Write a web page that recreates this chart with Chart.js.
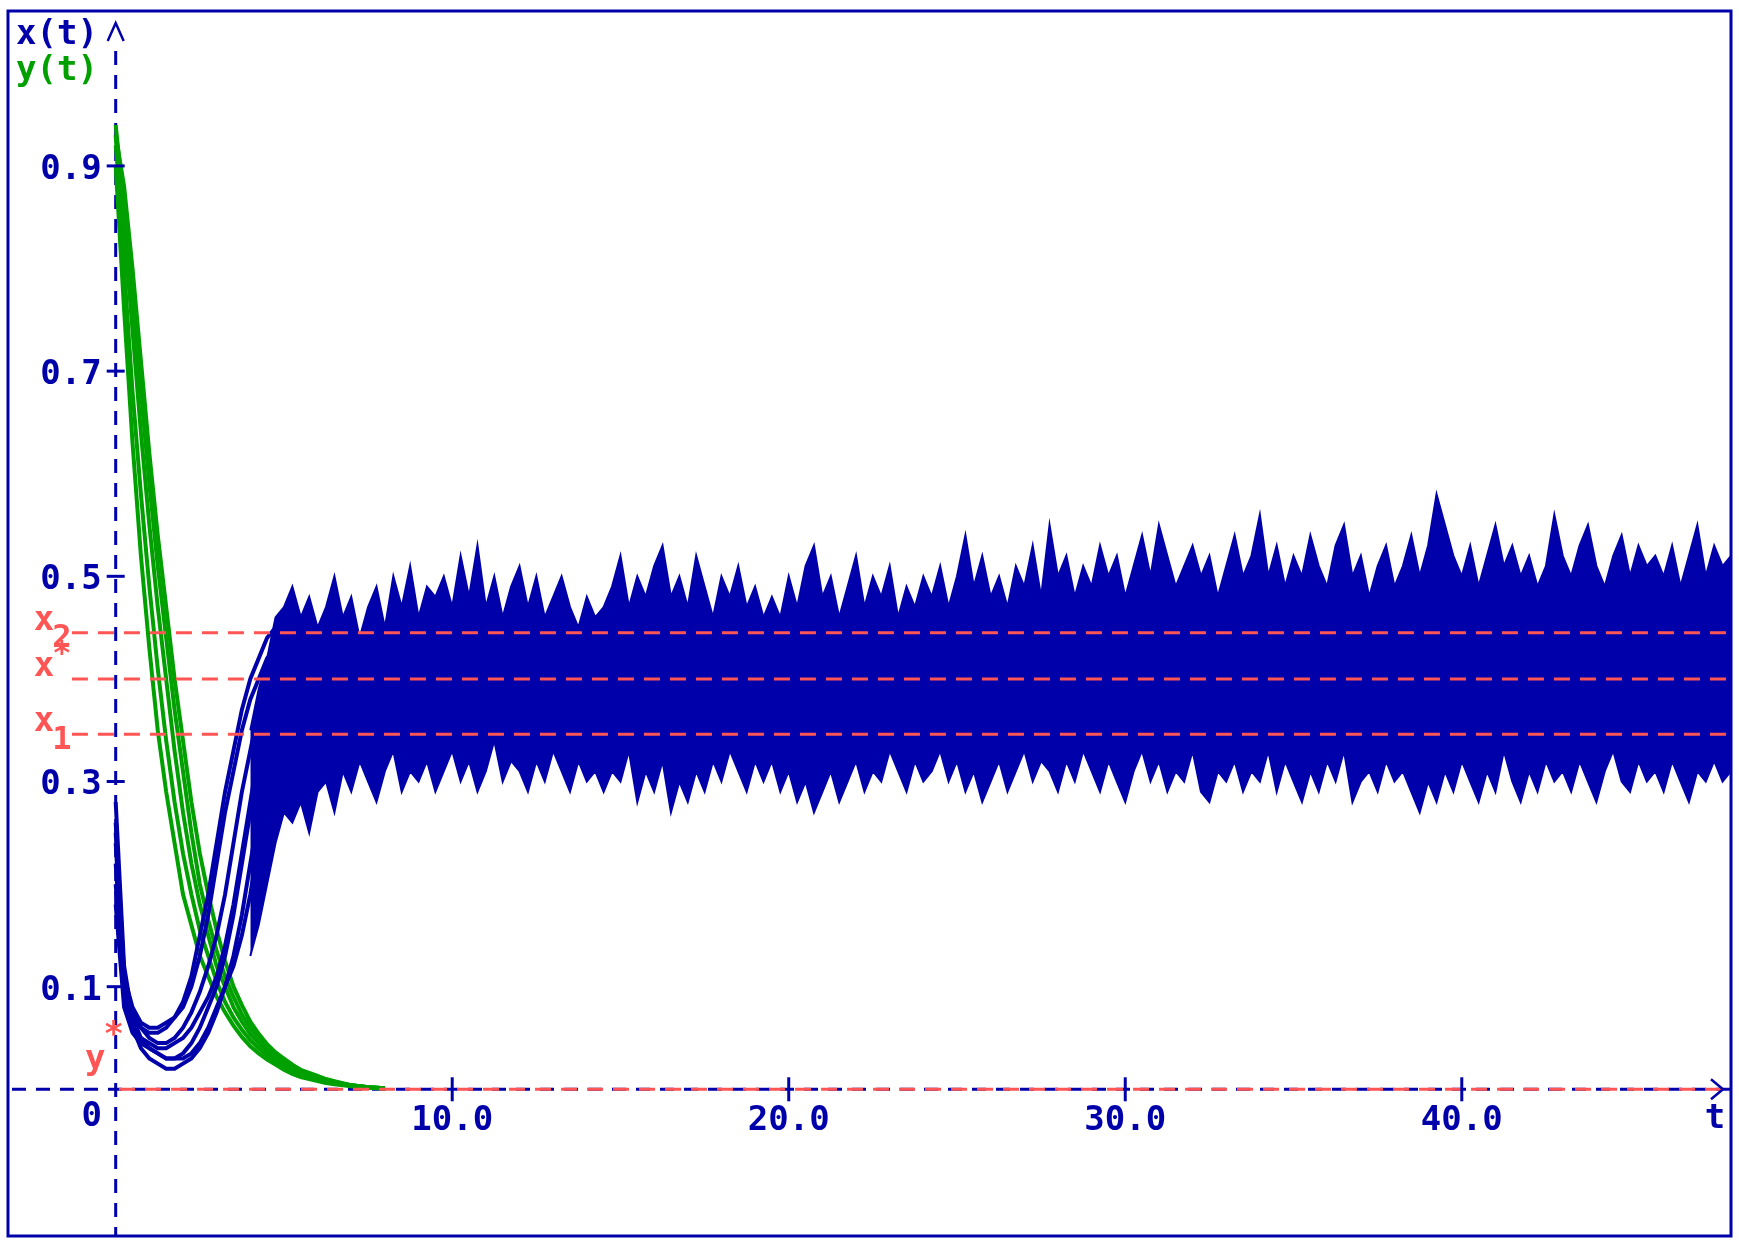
<!DOCTYPE html>
<html><head><meta charset="utf-8">
<script src="https://cdn.jsdelivr.net/npm/chart.js@4/dist/chart.umd.min.js"></script>
<style>html,body{margin:0;padding:0;background:#fff}canvas{display:block}</style>
</head><body>
<canvas id="c" width="1739" height="1246"></canvas>
<script>
// ---- data ----
const xTicks = [10, 20, 30, 40];
const xTickLabels = ["10.0", "20.0", "30.0", "40.0"];
const yTicks = [0.1, 0.3, 0.5, 0.7, 0.9];
const yTickLabels = ["0.1", "0.3", "0.5", "0.7", "0.9"];
const refLevels = {x2: 0.445, xStar: 0.400, x1: 0.346, yStar: 0.0};

const earlyStart = 0, earlyStep = 0.25;
const blue1 = [0.28,0.12,0.07,0.05,0.04,0.035,0.03,0.03,0.035,0.045,0.06,0.08,0.10,0.13,0.17,0.22,0.27,0.32,0.36,0.39,0.41,0.42,0.42];
const blue2 = [0.22,0.10,0.06,0.04,0.03,0.025,0.02,0.02,0.025,0.03,0.04,0.055,0.075,0.10,0.13,0.17,0.22,0.27,0.31,0.35,0.38,0.40,0.41];
const blue3 = [0.25,0.11,0.08,0.065,0.06,0.06,0.065,0.07,0.08,0.10,0.13,0.17,0.22,0.27,0.31,0.35,0.38,0.40,0.42,0.43,0.44,0.44,0.44];
const blue4 = [0.20,0.09,0.06,0.05,0.045,0.04,0.04,0.045,0.05,0.06,0.075,0.09,0.11,0.14,0.18,0.23,0.28,0.33,0.37,0.40,0.42,0.43,0.43];
const blue5 = [0.18,0.08,0.055,0.045,0.04,0.035,0.03,0.03,0.03,0.035,0.045,0.06,0.08,0.10,0.12,0.15,0.19,0.24,0.29,0.33,0.37,0.40,0.42];
const blue6 = [0.24,0.10,0.07,0.06,0.055,0.055,0.06,0.07,0.085,0.11,0.15,0.19,0.24,0.29,0.33,0.37,0.40,0.42,0.44,0.45,0.45,0.45,0.45];
const blue7 = [0.26,0.11,0.075,0.06,0.05,0.045,0.045,0.05,0.06,0.075,0.095,0.12,0.15,0.19,0.24,0.29,0.33,0.37,0.40,0.42,0.43,0.44,0.44];

const green1 = [0.93,0.80,0.68,0.58,0.49,0.41,0.34,0.28,0.23,0.19,0.155,0.13,0.105,0.085,0.07,0.058,0.048,0.04,0.033,0.027,0.022,0.018,0.015,0.012,0.01,0.008,0.006,0.005,0.004,0.003,0.002,0.0015,0.001];
const green2 = [0.92,0.84,0.74,0.64,0.55,0.47,0.40,0.33,0.27,0.22,0.18,0.15,0.12,0.10,0.08,0.066,0.054,0.045,0.037,0.03,0.025,0.02,0.016,0.013,0.01,0.008,0.006,0.005,0.004,0.003,0.002,0.0015,0.001];
const green3 = [0.90,0.76,0.63,0.52,0.43,0.35,0.29,0.24,0.19,0.16,0.13,0.11,0.09,0.075,0.062,0.051,0.042,0.035,0.029,0.024,0.019,0.015,0.012,0.01,0.008,0.006,0.005,0.004,0.003,0.002,0.0015,0.001,0.001];
const green4 = [0.94,0.86,0.77,0.68,0.59,0.51,0.44,0.37,0.31,0.25,0.20,0.165,0.135,0.11,0.09,0.073,0.06,0.05,0.041,0.034,0.028,0.023,0.018,0.015,0.012,0.009,0.007,0.005,0.004,0.003,0.002,0.0015,0.001];
const green5 = [0.93,0.88,0.80,0.71,0.62,0.54,0.47,0.40,0.34,0.28,0.23,0.19,0.155,0.125,0.10,0.082,0.066,0.054,0.044,0.036,0.03,0.024,0.019,0.016,0.013,0.01,0.008,0.006,0.004,0.003,0.002,0.0015,0.001];

const bandStart = 4, bandStep = 0.25;
const bandUpper = [0.35,0.39,0.42,0.46,0.47,
 0.49,0.46,0.48,0.45,0.47,0.50,0.46,0.48,0.44,0.47,0.49,0.45,0.50,0.47,0.51,0.46,0.49,0.48,0.50,
 0.47,0.52,0.48,0.53,0.47,0.50,0.46,0.49,0.51,0.47,0.50,0.46,0.48,0.50,0.47,0.45,0.48,0.46,0.47,
 0.49,0.52,0.47,0.50,0.48,0.51,0.53,0.48,0.50,0.47,0.52,0.49,0.46,0.50,0.48,0.51,0.47,0.49,0.46,
 0.48,0.46,0.50,0.47,0.51,0.53,0.48,0.50,0.46,0.49,0.52,0.47,0.50,0.48,0.51,0.46,0.49,0.47,0.50,
 0.48,0.51,0.47,0.50,0.54,0.49,0.52,0.48,0.50,0.47,0.51,0.49,0.53,0.48,0.55,0.50,0.52,0.48,0.51,
 0.49,0.53,0.50,0.52,0.48,0.51,0.54,0.50,0.55,0.52,0.49,0.51,0.53,0.50,0.52,0.48,0.51,0.54,0.50,
 0.52,0.56,0.50,0.53,0.49,0.52,0.50,0.54,0.51,0.49,0.53,0.55,0.50,0.52,0.48,0.51,0.53,0.49,0.51,
 0.54,0.50,0.53,0.58,0.55,0.52,0.50,0.53,0.49,0.52,0.55,0.51,0.53,0.50,0.52,0.49,0.51,0.56,0.52,
 0.50,0.53,0.55,0.51,0.49,0.52,0.54,0.50,0.53,0.51,0.52,0.50,0.53,0.49,0.52,0.55,0.50,0.53,0.51,0.52];
const bandLower = [0.13,0.16,0.20,0.24,0.27,
 0.26,0.28,0.25,0.29,0.30,0.27,0.31,0.29,0.32,0.30,0.28,0.31,0.33,0.29,0.31,0.30,0.32,0.29,0.31,
 0.33,0.30,0.32,0.29,0.31,0.34,0.30,0.32,0.31,0.29,0.32,0.30,0.33,0.31,0.29,0.32,0.30,0.31,0.29,
 0.31,0.30,0.33,0.28,0.31,0.29,0.32,0.27,0.30,0.28,0.31,0.29,0.32,0.30,0.33,0.31,0.29,0.32,0.30,
 0.32,0.29,0.31,0.28,0.30,0.27,0.29,0.31,0.28,0.30,0.32,0.29,0.31,0.30,0.33,0.31,0.29,0.32,0.30,
 0.31,0.33,0.30,0.32,0.29,0.31,0.28,0.30,0.32,0.29,0.31,0.33,0.30,0.32,0.31,0.29,0.32,0.30,0.33,
 0.31,0.29,0.32,0.30,0.28,0.31,0.33,0.30,0.32,0.29,0.31,0.30,0.33,0.29,0.28,0.31,0.30,0.32,0.29,
 0.31,0.30,0.33,0.29,0.32,0.30,0.28,0.31,0.29,0.32,0.30,0.33,0.28,0.30,0.31,0.29,0.32,0.30,0.31,
 0.29,0.27,0.30,0.28,0.31,0.29,0.32,0.30,0.28,0.31,0.29,0.33,0.30,0.28,0.31,0.29,0.32,0.30,0.31,
 0.29,0.32,0.30,0.28,0.31,0.33,0.30,0.29,0.32,0.30,0.31,0.29,0.32,0.30,0.28,0.31,0.30,0.32,0.30,0.31];

// ---- build ----
const BLUE = "#0000AA", GREEN = "#00A000", RED = "#FF5555";
const pts = (arr, t0, dt) => arr.map((v, i) => ({x: t0 + i * dt, y: v}));
const n = Math.min(bandUpper.length, bandLower.length);
const line = (d, c, w) => ({data: d, borderColor: c, backgroundColor: c, borderWidth: w, pointRadius: 0, tension: 0, fill: false});

const datasets = [
  Object.assign(line(pts(bandUpper.slice(0, n), bandStart, bandStep), BLUE, 2), {fill: '+1'}),
  line(pts(bandLower.slice(0, n), bandStart, bandStep), BLUE, 2),
  ...[blue1, blue2, blue3, blue4, blue5, blue6, blue7].map(a => line(pts(a, earlyStart, earlyStep), BLUE, 4)),
  ...[green1, green2, green3, green4, green5].map(a => line(pts(a, earlyStart, earlyStep), GREEN, 4)),
];

const FONT = "bold 34px 'DejaVu Sans Mono', monospace";
const deco = {
  id: 'deco',
  beforeDatasetsDraw(chart) {
    const ctx = chart.ctx, xs = chart.scales.x, ys = chart.scales.y, a = chart.chartArea;
    const X = v => xs.getPixelForValue(v), Y = v => ys.getPixelForValue(v);
    ctx.save();
    ctx.strokeStyle = BLUE; ctx.lineWidth = 3; ctx.setLineDash([14, 10]);
    ctx.beginPath(); ctx.moveTo(X(0), a.top + 40); ctx.lineTo(X(0), a.bottom); ctx.stroke();
    ctx.beginPath(); ctx.moveTo(a.left + 4, Y(0)); ctx.lineTo(a.right, Y(0)); ctx.stroke();
    ctx.restore();
  },
  afterDatasetsDraw(chart) {
    const ctx = chart.ctx, xs = chart.scales.x, ys = chart.scales.y, a = chart.chartArea;
    const X = v => xs.getPixelForValue(v), Y = v => ys.getPixelForValue(v);
    ctx.save();
    ctx.strokeStyle = RED; ctx.lineWidth = 3; ctx.setLineDash([16, 10]);
    [refLevels.x2, refLevels.xStar, refLevels.x1].forEach(l => {
      ctx.beginPath(); ctx.moveTo(X(-1.3), Y(l)); ctx.lineTo(a.right, Y(l)); ctx.stroke();
    });
    ctx.beginPath(); ctx.moveTo(X(0.1), Y(refLevels.yStar)); ctx.lineTo(a.right, Y(refLevels.yStar)); ctx.stroke();
    ctx.strokeStyle = BLUE; ctx.lineWidth = 3; ctx.setLineDash([]);
    yTicks.forEach(v => { ctx.beginPath(); ctx.moveTo(X(0) - 9, Y(v)); ctx.lineTo(X(0) + 9, Y(v)); ctx.stroke(); });
    xTicks.forEach(v => { ctx.beginPath(); ctx.moveTo(X(v), Y(0) - 12); ctx.lineTo(X(v), Y(0) + 12); ctx.stroke(); });
    ctx.lineWidth = 2.5;
    ctx.beginPath(); ctx.moveTo(X(0) - 8, a.top + 30); ctx.lineTo(X(0), a.top + 12); ctx.lineTo(X(0) + 8, a.top + 30); ctx.stroke();
    ctx.beginPath(); ctx.moveTo(a.right - 20, Y(0) - 10); ctx.lineTo(a.right - 8, Y(0)); ctx.lineTo(a.right - 20, Y(0) + 10); ctx.stroke();
    ctx.font = FONT; ctx.fillStyle = BLUE; ctx.textBaseline = 'middle';
    ctx.textAlign = 'right';
    yTicks.forEach((v, i) => ctx.fillText(yTickLabels[i], X(0) - 14, Y(v) + 4));
    ctx.textAlign = 'center';
    xTicks.forEach((v, i) => ctx.fillText(xTickLabels[i], X(v), Y(0) + 32));
    ctx.fillText("0", X(0) - 24, Y(0) + 28);
    ctx.fillText("t", a.right - 16, Y(0) + 30);
    ctx.textAlign = 'left';
    ctx.fillText("x(t)", a.left + 8, a.top + 24);
    ctx.fillStyle = GREEN; ctx.fillText("y(t)", a.left + 8, a.top + 60);
    ctx.fillStyle = RED;
    const lab = (main, sub, sup, v) => {
      const x0 = X(-1.35), y0 = Y(v);
      ctx.font = FONT; ctx.textAlign = 'right'; ctx.fillText(main, x0 - 16, y0 - 12);
      ctx.font = "bold 32px 'DejaVu Sans Mono', monospace"; ctx.textAlign = 'left';
      if (sub) ctx.fillText(sub, x0 - 18, y0 + 6);
      if (sup) ctx.fillText(sup, x0 - 18, y0 - 24);
    };
    lab("x", "2", null, refLevels.x2);
    lab("x", null, "*", refLevels.xStar);
    lab("x", "1", null, refLevels.x1);
    ctx.font = FONT; ctx.textAlign = 'right'; ctx.fillText("y", X(-0.3), Y(0.028));
    ctx.textAlign = 'left'; ctx.fillText("*", X(-0.3) - 2, Y(0.052));
    ctx.strokeStyle = BLUE; ctx.lineWidth = 3;
    ctx.strokeRect(a.left, a.top, a.right - a.left, a.bottom - a.top);
    ctx.restore();
  }
};

new Chart(document.getElementById('c'), {
  type: 'line',
  data: {datasets},
  options: {
    responsive: false, animation: false, devicePixelRatio: 1,
    layout: {padding: {left: 8, top: 11, right: 8, bottom: 10}},
    scales: {
      x: {type: 'linear', min: -3.2, max: 48.0, display: false},
      y: {type: 'linear', min: -0.143, max: 1.051, display: false}
    },
    plugins: {legend: {display: false}, tooltip: {enabled: false}},
    elements: {line: {borderJoinStyle: 'miter'}}
  },
  plugins: [deco]
});
</script>
</body></html>
